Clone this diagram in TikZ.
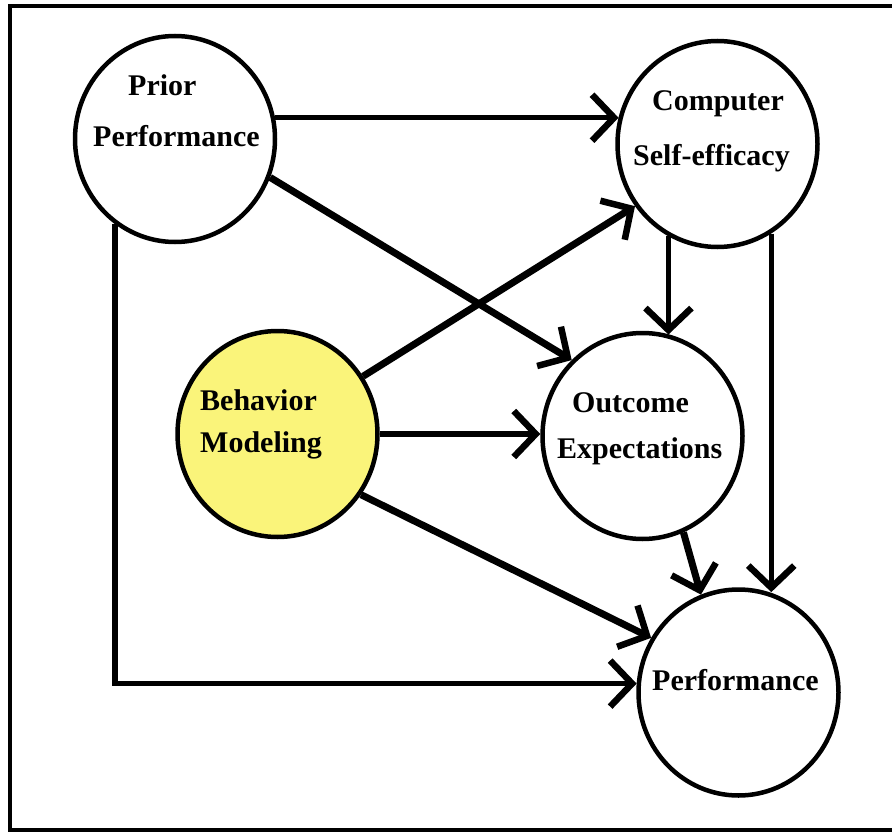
\documentclass[tikz,border=0pt]{standalone}
\usepackage{fontspec}
\setmainfont{Liberation Serif}
\usetikzlibrary{shapes.geometric,arrows.meta}
\definecolor{bmyellow}{RGB}{250,244,122}
\tikzset{
  bub/.style={ellipse, draw, line width=4.5pt, minimum width=200pt, minimum height=206pt, inner sep=0pt, fill=white},
  arr/.style={line width=5.5pt, -{Straight Barb[length=22pt,width=46pt,line width=6.5pt]}},
  diag/.style={arr, line width=7pt},
  lbl/.style={anchor=base west, inner sep=0pt, font=\bfseries\fontsize{30}{30}\selectfont},
  frame/.style={line width=4pt}
}
\begin{document}
\begin{tikzpicture}[x=1pt,y=-1pt]
\clip (0,0) rectangle (892,832);
\fill[white] (0,0) rectangle (892,832);
\draw[frame] (9.5,6.5) rectangle (910,829.5);

% circles
\node[bub] (prior) at (175,139) {};
\node[bub] (comp) at (717.5,144) {};
\node[bub, fill=bmyellow] (beh) at (277.5,434) {};
\node[bub] (out) at (642.5,436) {};
\node[bub] (perf) at (738.5,692.5) {};

% labels
\node[lbl] (t1) at (128,96) {Prior};
\node[lbl] (t2) at (93,147) {Performance};
\node[lbl] (t3) at (652,111) {Computer};
\node[lbl] (t4) at (633,166) {Self-efficacy};
\node[lbl] (t5) at (200,410) {Behavior};
\node[lbl] (t6) at (200,452) {Modeling};
\node[lbl] (t7) at (572,412) {Outcome};
\node[lbl] (t8) at (557,458) {Expectations};
\node[lbl] (t9) at (652,690) {Performance};

% connectors
\draw[arr] (prior.12) -- (comp.165 |- prior.12);
\draw[diag] (prior.-22) -- (out.133.5);
\draw[arr] (prior.235) |- (perf.175);
\draw[arr] (comp.242) -- (out.75.5 -| comp.242);
\draw[arr] (comp.-59) -- (perf.73 -| comp.-59);
\draw[diag] (out.-67) -- (perf.111);
\draw[diag] (beh.34.5) -- (comp.217.5);
\draw[arr] (beh.east) -- (out.west |- beh.east);
\draw[diag] (beh.-36.3) -- (perf.148.5);
\end{tikzpicture}
\end{document}
